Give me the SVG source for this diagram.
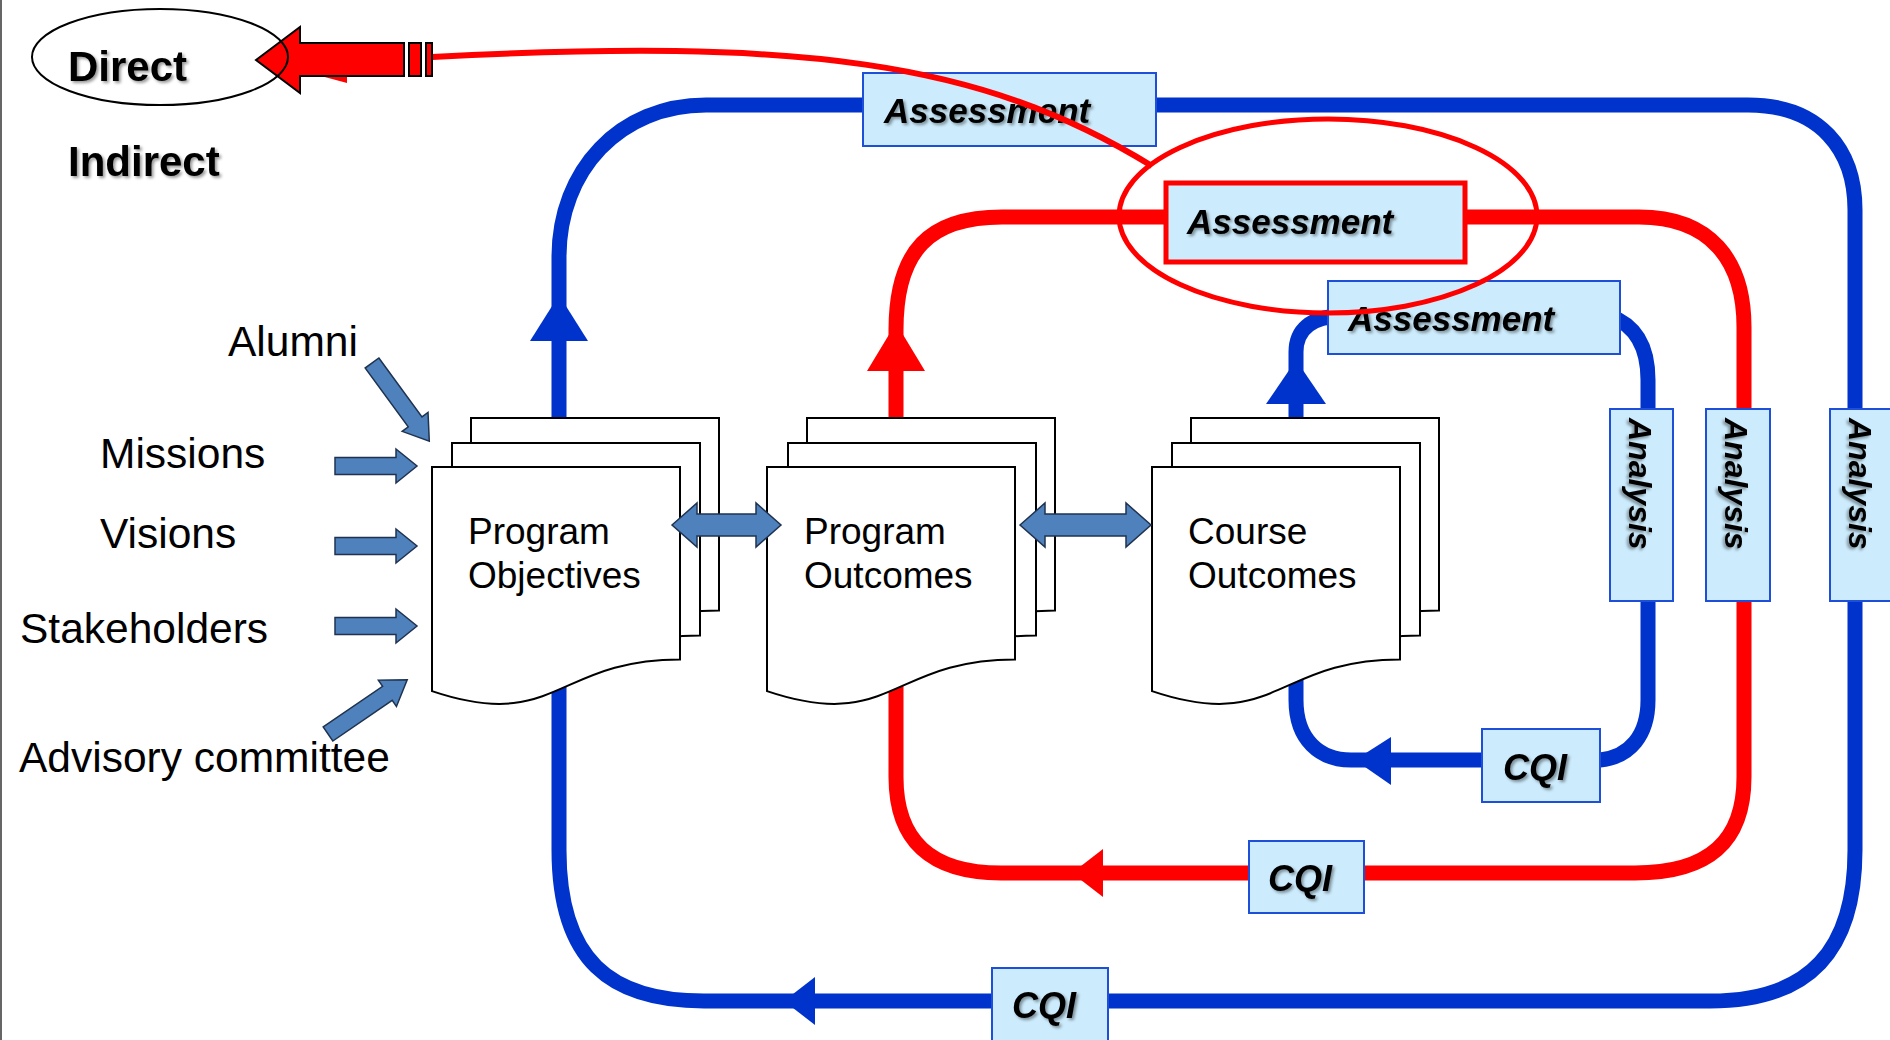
<svg xmlns="http://www.w3.org/2000/svg" width="1890" height="1040" viewBox="0 0 1890 1040">
<defs>
<filter id="sh" x="-10%" y="-20%" width="130%" height="150%"><feDropShadow dx="2" dy="2" stdDeviation="1.5" flood-color="#000" flood-opacity="0.4"/></filter>
<path id="doc" d="M0,0 H248 V192.5 C124,192.5 124,265.8 0,224.1 Z"/>
</defs>
<style>
.lbl{font-family:"Liberation Sans",Arial,sans-serif;font-size:42.5px;fill:#000}
.doc{fill:#fff;stroke:#000;stroke-width:2}
.dt{font-family:"Liberation Sans",Arial,sans-serif;font-size:37px;fill:#000}
.box{fill:#CCEBFC;stroke:#1E4FD8;stroke-width:2}
.bt{font-family:"Liberation Sans",Arial,sans-serif;font-weight:bold;font-style:italic;font-size:35px;fill:#000;filter:url(#sh)}
.at{font-family:"Liberation Sans",Arial,sans-serif;font-weight:bold;font-style:italic;font-size:32px;fill:#000;filter:url(#sh)}
.ct{font-family:"Liberation Sans",Arial,sans-serif;font-weight:bold;font-style:italic;font-size:36px;fill:#000;filter:url(#sh)}
.blue{fill:none;stroke:#0033CC;stroke-width:15}
.red{fill:none;stroke:#FF0000;stroke-width:15}
.bh{fill:#0033CC}
.rh{fill:#FF0000}
.ba{fill:#4F81BD;stroke:#1F3350;stroke-width:1.5}
.big{font-family:"Liberation Sans",Arial,sans-serif;font-weight:bold;font-size:42px;fill:#000;filter:url(#sh)}
</style>

<line x1="1" y1="0" x2="1" y2="1040" stroke="#666" stroke-width="2"/>

<g id="connectors">
  <path class="blue" d="M559,418 V257 C559,170 620,105 706,105 H1748 C1820,105 1855,150 1855,210 V850 C1855,950 1810,1001 1710,1001 H704 C610,1001 559,960 559,850 V600"/>
  <path class="red" d="M896,418 V330 C896,250 930,217 1002,217 H1639 C1710,217 1744,260 1744,327 V777 C1744,840 1710,873 1635,873 H1001 C930,873 896,840 896,777 V600"/>
  <path class="blue" d="M1296,418 V352 C1296,330 1310,317 1340,316 H1610 C1638,326 1648,350 1648,380 V700 C1648,735 1630,757 1600,760 H1351 C1320,760 1296,740 1296,700 V600"/>
  <polygon class="bh" points="559,295 530,341 588,341"/>
  <polygon class="rh" points="896,323 867,371 925,371"/>
  <polygon class="bh" points="1296,360 1266,404 1326,404"/>
  <polygon class="bh" points="784,1001 815,977 815,1025"/>
  <polygon class="rh" points="1072,873 1103,849 1103,897"/>
  <polygon class="bh" points="1355,760 1391,737 1391,785"/>
</g>

<g id="program-objectives">
  <use href="#doc" class="doc" x="471" y="418"/>
  <use href="#doc" class="doc" x="452" y="443"/>
  <use href="#doc" class="doc" x="432" y="467"/>
  <text class="dt" x="468" y="544">Program</text>
  <text class="dt" x="468" y="588">Objectives</text>
</g>
<g id="program-outcomes">
  <use href="#doc" class="doc" x="807" y="418"/>
  <use href="#doc" class="doc" x="788" y="443"/>
  <use href="#doc" class="doc" x="767" y="467"/>
  <text class="dt" x="804" y="544">Program</text>
  <text class="dt" x="804" y="588">Outcomes</text>
</g>
<g id="course-outcomes">
  <use href="#doc" class="doc" x="1191" y="418"/>
  <use href="#doc" class="doc" x="1172" y="443"/>
  <use href="#doc" class="doc" x="1152" y="467"/>
  <text class="dt" x="1188" y="544">Course</text>
  <text class="dt" x="1188" y="588">Outcomes</text>
</g>

<g id="assessment-outer">
  <rect class="box" x="863" y="73" width="293" height="73"/>
  <text class="bt" x="884" y="123">Assessment</text>
</g>
<g id="assessment-middle">
  <rect class="box" x="1166" y="183" width="299" height="79" style="stroke:#FF0000;stroke-width:5"/>
  <text class="bt" x="1187" y="234">Assessment</text>
</g>
<g id="assessment-inner">
  <rect class="box" x="1328" y="281" width="292" height="73"/>
  <text class="bt" x="1348" y="331">Assessment</text>
</g>

<g id="analysis-inner">
  <rect class="box" x="1610" y="409" width="63" height="192"/>
  <text class="at" transform="translate(1629,418) rotate(90)">Analysis</text>
</g>
<g id="analysis-middle">
  <rect class="box" x="1706" y="409" width="64" height="192"/>
  <text class="at" transform="translate(1725,418) rotate(90)">Analysis</text>
</g>
<g id="analysis-outer">
  <rect class="box" x="1830" y="409" width="64" height="192"/>
  <text class="at" transform="translate(1849,418) rotate(90)">Analysis</text>
</g>

<g id="cqi-inner">
  <rect class="box" x="1482" y="729" width="118" height="73"/>
  <text class="ct" x="1503" y="780">CQI</text>
</g>
<g id="cqi-middle">
  <rect class="box" x="1249" y="841" width="115" height="72"/>
  <text class="ct" x="1268" y="891">CQI</text>
</g>
<g id="cqi-outer">
  <rect class="box" x="992" y="968" width="116" height="80"/>
  <text class="ct" x="1012" y="1018">CQI</text>
</g>

<g id="double-arrows">
  <polygon class="ba" points="672,525 697,503 697,514 756,514 756,503 781,525 756,547 756,536 697,536 697,547"/>
  <polygon class="ba" points="1020,525 1045,503 1045,514 1126,514 1126,503 1151,525 1126,547 1126,536 1045,536 1045,547"/>
</g>

<g id="inputs">
  <polygon class="ba" transform="translate(372,363) rotate(53.8)" points="0,-8.5 73,-8.5 73,-16 97,0 73,16 73,8.5 0,8.5"/>
  <polygon class="ba" points="335,457.5 396,457.5 396,449 417,466 396,483 396,474.5 335,474.5"/>
  <polygon class="ba" points="335,537.5 396,537.5 396,529 417,546 396,563 396,554.5 335,554.5"/>
  <polygon class="ba" points="335,617.5 396,617.5 396,609 417,626 396,643 396,634.5 335,634.5"/>
  <polygon class="ba" transform="translate(328,734) rotate(-34.4)" points="0,-8.5 72,-8.5 72,-16 96,0 72,16 72,8.5 0,8.5"/>
  <text class="lbl" x="228" y="356">Alumni</text>
  <text class="lbl" x="100" y="468">Missions</text>
  <text class="lbl" x="100" y="548">Visions</text>
  <text class="lbl" x="20" y="643">Stakeholders</text>
  <text class="lbl" x="19" y="772">Advisory committee</text>
</g>

<g id="direct">
  <path d="M432,57 C800,38 980,60 1152,166" fill="none" stroke="#FF0000" stroke-width="6"/>
  <polygon points="321,76 347,76 347,83" fill="#FF0000"/>
  <polygon points="256,60 300,27 300,43 404,43 404,76 300,76 300,93" fill="#FF0000" stroke="#000" stroke-width="2"/>
  <rect x="409" y="43" width="12" height="33" fill="#FF0000" stroke="#000" stroke-width="2"/>
  <rect x="426" y="43" width="6" height="33" fill="#FF0000" stroke="#000" stroke-width="2"/>
  <ellipse cx="160" cy="57" rx="128" ry="48" fill="none" stroke="#000" stroke-width="2"/>
  <text class="big" x="68" y="81">Direct</text>
</g>
<g id="indirect">
  <text class="big" x="68" y="176">Indirect</text>
</g>
<g id="highlight">
  <ellipse cx="1328" cy="216" rx="209" ry="97" fill="none" stroke="#FF0000" stroke-width="5"/>
</g>
</svg>
